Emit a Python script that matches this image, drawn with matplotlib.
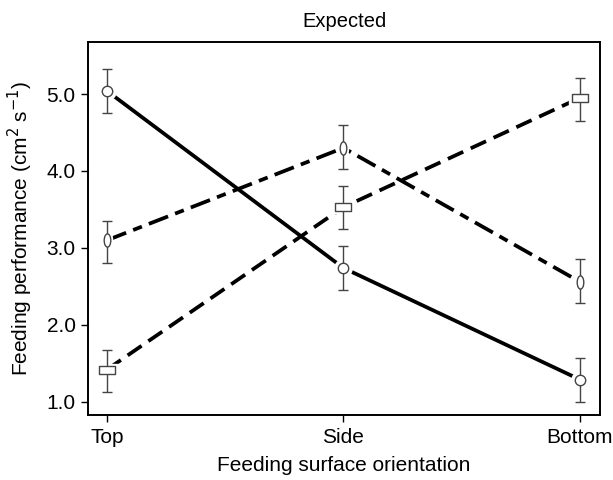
import matplotlib
matplotlib.use("Agg")
import matplotlib.pyplot as plt
from matplotlib.path import Path
from matplotlib.transforms import Affine2D

plt.rcParams['font.family'] = ['Liberation Sans', 'DejaVu Sans']

orientations = ['Top', 'Side', 'Bottom']

solid_mean = [5.04, 2.74, 1.29]
solid_lo = [4.75, 2.45, 1.00]
solid_hi = [5.32, 3.03, 1.57]

dashdot_mean = [3.10, 4.30, 2.56]
dashdot_lo = [2.80, 4.03, 2.29]
dashdot_hi = [3.35, 4.60, 2.86]

dashed_mean = [1.42, 3.53, 4.95]
dashed_lo = [1.13, 3.25, 4.65]
dashed_hi = [1.68, 3.81, 5.21]

ellipse = Path.unit_circle().transformed(Affine2D().scale(0.5, 1.0))
wide_sq = Path.unit_rectangle().transformed(Affine2D().translate(-0.5, -0.5).scale(1.0, 0.55))

fig = plt.figure(figsize=(6.13, 4.8), dpi=100)
ax = fig.add_axes([0.1436, 0.1354, 0.8352, 0.777])

x = list(range(len(orientations)))
series = [
    (solid_mean, solid_lo, solid_hi, '-', 'o', 7.5),
    (dashdot_mean, dashdot_lo, dashdot_hi, (0, (5.5, 2, 2.5, 2)), ellipse, 9.5),
    (dashed_mean, dashed_lo, dashed_hi, (0, (4.5, 2.2)), wide_sq, 11),
]
for mean, lo, hi, ls, mk, ms in series:
    ax.plot(x, mean, color='black', lw=2.7, ls=ls, zorder=2)
    # white halo leaves a small gap between line and marker
    ax.plot(x, mean, ls='none', marker=mk, ms=ms + 5, mfc='white', mec='white', zorder=2.5)
    err = [[m - l for m, l in zip(mean, lo)], [h - m for m, h in zip(mean, hi)]]
    ax.errorbar(x, mean, yerr=err, fmt='none', ecolor='#444444', elinewidth=1.0,
                capsize=3.7, capthick=1.0, zorder=3)
    ax.plot(x, mean, ls='none', marker=mk, ms=ms, mfc='white', mec='#444444',
            mew=1.0, zorder=4)

ax.set_xlim(-0.08, 2.085)
ax.set_ylim(0.83, 5.675)
ax.set_xticks(x)
ax.set_xticklabels(orientations)
ax.set_yticks([1, 2, 3, 4, 5])
ax.set_yticklabels(['1.0', '2.0', '3.0', '4.0', '5.0'])
ax.tick_params(labelsize=15, length=5, width=1, direction='out', pad=4)
for s in ax.spines.values():
    s.set_linewidth(1.4)

ax.set_xlabel('Feeding surface orientation', fontsize=15, labelpad=7)
ax.set_ylabel('Feeding performance (cm$^2$ s$^{-1}$)', fontsize=15, labelpad=8)
ax.set_title('Expected', fontsize=14.5, pad=11)

fig.savefig('out.png', dpi=100)
